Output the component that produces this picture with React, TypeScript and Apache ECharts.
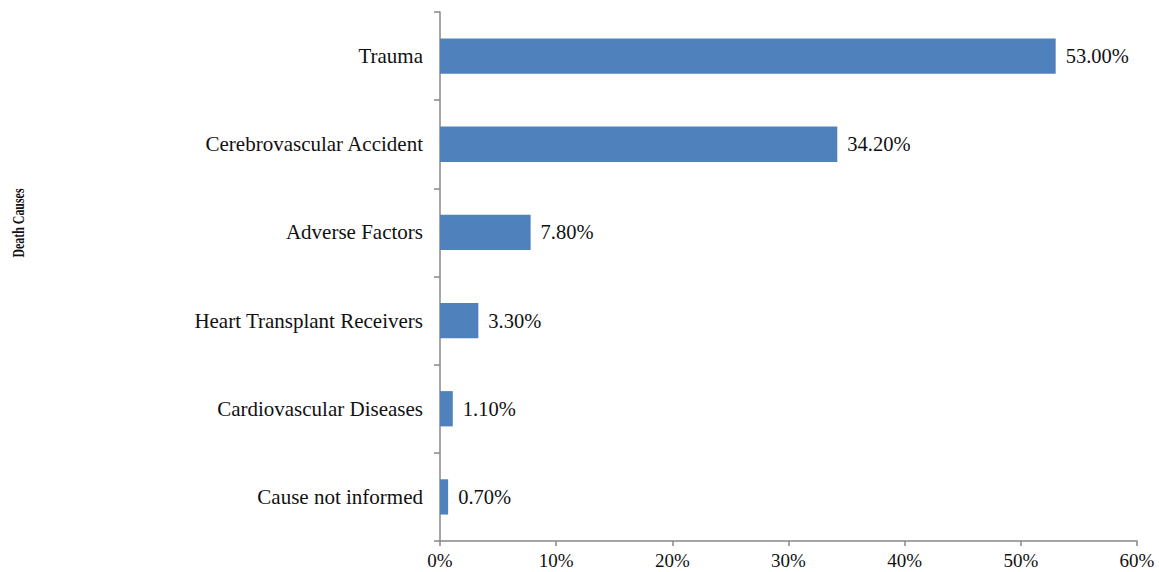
import React, { useEffect, useRef } from "react";
import * as echarts from "echarts";

const causes = [
  "Trauma",
  "Cerebrovascular Accident",
  "Adverse Factors",
  "Heart Transplant Receivers",
  "Cardiovascular Diseases",
  "Cause not informed",
];
const shares = [53.0, 34.2, 7.8, 3.3, 1.1, 0.7];
const axisTitle = "Death Causes";

const FONT = "'Liberation Serif', 'Times New Roman', serif";
const AXIS_GREY = "#888888";

export default function App() {
  const ref = useRef<HTMLDivElement>(null);

  useEffect(() => {
    document.body.style.margin = "0";
    document.body.style.overflow = "hidden";
    if (!ref.current) return;
    const chart = echarts.init(ref.current, undefined, { renderer: "svg" });
    chart.setOption({
      animation: false,
      backgroundColor: "#ffffff",
      grid: { left: 440, top: 12, right: 22, bottom: 31, containLabel: false },
      xAxis: {
        type: "value",
        min: 0,
        max: 60,
        interval: 10,
        splitLine: { show: false },
        axisLine: { show: true, lineStyle: { color: AXIS_GREY, width: 1.5 } },
        axisTick: { show: true, length: 5, lineStyle: { color: AXIS_GREY, width: 1.5 } },
        axisLabel: {
          formatter: "{value}%",
          color: "#111",
          fontFamily: FONT,
          fontSize: 19,
          margin: 10,
        },
      },
      yAxis: {
        type: "category",
        inverse: true,
        data: causes,
        axisLine: { show: true, lineStyle: { color: AXIS_GREY, width: 1.5 } },
        axisTick: { show: true, length: 6, lineStyle: { color: AXIS_GREY, width: 1.5 } },
        axisLabel: {
          color: "#111",
          fontFamily: FONT,
          fontSize: 21,
          margin: 17,
        },
      },
      series: [
        {
          type: "bar",
          data: shares,
          barCategoryGap: "60%",
          itemStyle: { color: "#4F81BD" },
          label: {
            show: true,
            position: "right",
            distance: 10,
            formatter: (p: any) => `${Number(p.value).toFixed(2)}%`,
            color: "#111",
            fontFamily: FONT,
            fontSize: 20.5,
          },
        },
      ],
      graphic: [
        {
          type: "text",
          x: 18.5,
          y: 223,
          rotation: Math.PI / 2,
          scaleX: 0.7,
          style: {
            text: axisTitle,
            fontFamily: FONT,
            fontSize: 17,
            fontWeight: "bold",
            fill: "#111",
            align: "center",
            verticalAlign: "middle",
          },
        },
      ],
    });
    return () => chart.dispose();
  }, []);

  return <div ref={ref} style={{ width: 1159, height: 572 }} />;
}
